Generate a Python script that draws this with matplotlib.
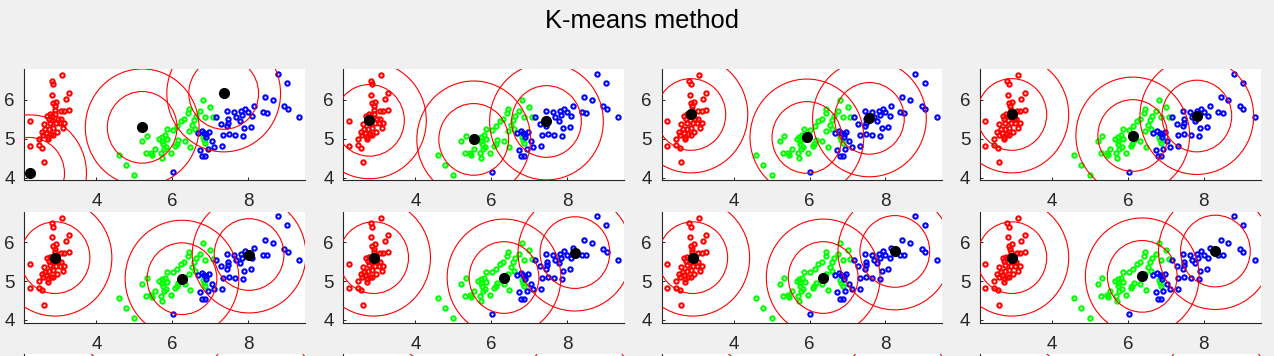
import matplotlib
matplotlib.use('Agg')
import matplotlib.pyplot as plt
from matplotlib.patches import Circle

# ---- data (same points in every panel) ----
red_x = [3.09, 2.82, 2.87, 3.28, 2.84, 3.19, 2.94, 2.86, 2.90, 2.91, 3.07, 3.16, 3.28, 2.24,
         2.70, 2.78, 2.84, 2.90, 2.74, 2.84, 2.99, 3.06, 3.16, 2.61, 2.77, 2.93, 3.03, 2.65,
         2.76, 2.87, 3.11, 2.56, 2.68, 2.80, 2.96, 2.59, 2.72, 2.87, 2.48, 2.72, 2.24, 2.48,
         2.58, 2.61]
red_y = [6.63, 6.48, 6.39, 6.17, 6.12, 6.03, 5.95, 5.91, 5.83, 5.74, 5.72, 5.72, 5.74, 5.45,
         5.58, 5.62, 5.58, 5.64, 5.51, 5.48, 5.51, 5.50, 5.39, 5.37, 5.41, 5.39, 5.39, 5.24,
         5.26, 5.28, 5.27, 5.18, 5.15, 5.11, 5.17, 5.10, 5.04, 5.10, 5.00, 4.98, 4.81, 4.83,
         4.76, 4.39]

green_x = [6.81, 7.01, 6.44, 6.74, 6.43, 6.64, 6.87, 7.08, 6.32, 6.23, 6.58, 6.53, 6.60, 6.44,
           6.14, 6.02, 5.86, 5.33, 5.21, 5.66, 5.73, 5.81, 5.74, 5.87, 5.75, 5.84, 5.78, 6.16,
           6.12, 6.08, 6.33, 6.48, 6.84, 6.88, 6.81, 5.96, 5.54, 5.44, 5.30, 5.47, 5.70, 5.72,
           4.59, 4.77, 5.00]
green_y = [5.98, 5.80, 5.75, 5.70, 5.65, 5.58, 5.55, 5.56, 5.50, 5.44, 5.49, 5.36, 5.26, 5.19,
           5.32, 5.22, 5.24, 5.07, 4.93, 5.00, 5.05, 5.09, 4.95, 4.98, 4.86, 4.79, 4.74, 4.96,
           4.87, 4.82, 4.93, 4.78, 4.96, 4.88, 5.03, 4.64, 4.74, 4.64, 4.62, 4.59, 4.62, 4.50,
           4.57, 4.32, 4.06]

blue_x = [8.79, 9.04, 8.45, 8.65, 8.96, 9.05, 9.35, 8.16, 8.39, 8.50, 7.93, 8.00, 7.82, 7.64,
          7.46, 7.69, 7.78, 7.85, 8.11, 7.48, 7.48, 7.46, 7.29, 7.17, 7.90, 8.08, 7.33, 7.49,
          7.66, 7.87, 7.32, 7.11, 7.04, 6.97, 6.67, 6.78, 6.84, 6.90, 6.90, 6.73, 6.94, 6.80,
          6.87, 6.02]
blue_y = [6.66, 6.44, 6.06, 5.98, 5.83, 5.75, 5.55, 5.85, 5.68, 5.66, 5.77, 5.68, 5.70, 5.68,
          5.70, 5.55, 5.46, 5.60, 5.59, 5.50, 5.40, 5.32, 5.38, 5.55, 5.27, 5.30, 5.09, 5.11,
          5.09, 5.06, 4.80, 4.79, 4.93, 5.17, 5.15, 5.20, 5.15, 5.12, 5.05, 4.72, 4.74, 4.55,
          4.55, 4.15]

# ---- centroids per iteration (12 panels, row-major) ----
cen1_x = [2.24, 2.79, 2.87, 2.94, 2.91, 2.90, 2.92, 2.94, 2.94, 2.94, 2.94, 2.94]
cen1_y = [4.11, 5.47, 5.62, 5.62, 5.60, 5.60, 5.60, 5.60, 5.60, 5.60, 5.60, 5.60]
cen2_x = [5.21, 5.54, 5.93, 6.13, 6.26, 6.34, 6.36, 6.38, 6.40, 6.40, 6.40, 6.40]
cen2_y = [5.29, 4.98, 5.03, 5.08, 5.06, 5.09, 5.09, 5.12, 5.13, 5.13, 5.13, 5.13]
cen3_x = [7.36, 7.46, 7.58, 7.82, 8.03, 8.21, 8.25, 8.31, 8.33, 8.33, 8.33, 8.33]
cen3_y = [6.16, 5.44, 5.52, 5.58, 5.68, 5.73, 5.76, 5.77, 5.78, 5.78, 5.78, 5.78]

circle_radii = [0.92, 1.5]

x_ticks = [4, 6, 8]
y_ticks = [4, 5, 6]

# ---- figure ----
W, H = 1274, 356
BG = '#f0f0f0'
AXC = (0.15, 0.15, 0.15)
plt.rcParams['font.family'] = ['Liberation Sans', 'DejaVu Sans']

fig = plt.figure(figsize=(W / 100, H / 100), dpi=100, facecolor=BG)

col_left_px = [24.3, 343.3, 661.7, 980.0]
row_top_px = [69.3, 211.7, 354.0]
ax_w_px, ax_h_px = 280.5, 111.0

for i in range(12):
    r, c = divmod(i, 4)
    ax = fig.add_axes([col_left_px[c] / W,
                       (H - row_top_px[r] - ax_h_px) / H,
                       ax_w_px / W, ax_h_px / H])
    ax.set_facecolor('white')
    for xs, ys, col in ((red_x, red_y, 'red'), (green_x, green_y, '#00ff00'),
                        (blue_x, blue_y, 'blue')):
        ax.plot(xs, ys, 'o', ms=3.1, mew=1.5, mfc='none', mec=col,
                linestyle='none', zorder=2)
    cxs = [cen1_x[i], cen2_x[i], cen3_x[i]]
    cys = [cen1_y[i], cen2_y[i], cen3_y[i]]
    for cx, cy in zip(cxs, cys):
        for rad in circle_radii:
            ax.add_patch(Circle((cx, cy), rad, fill=False, ec='red', lw=0.8, zorder=3))
    ax.plot(cxs, cys, 'o', ms=7.0, color='black', linestyle='none', zorder=4)

    ax.set_xlim(2.1, 9.5)
    ax.set_ylim(3.93, 6.78)
    ax.set_xticks(x_ticks)
    ax.set_yticks(y_ticks)
    for s in ('top', 'right'):
        ax.spines[s].set_visible(False)
    for s in ('left', 'bottom'):
        ax.spines[s].set_color(AXC)
        ax.spines[s].set_linewidth(0.8)
    ax.tick_params(axis='both', direction='in', length=2.2, width=0.7,
                   colors=AXC, labelsize=13.5)
    ax.tick_params(axis='x', pad=9.5)
    ax.tick_params(axis='y', pad=7)
    if r == 2:
        # third row lies almost entirely below the visible area
        ax.tick_params(labelleft=False, labelbottom=False)

fig.text(642 / W, 1 - 28.3 / H, 'K-means method', ha='center', va='baseline',
         fontsize=18.4, color='black')

fig.savefig('out.png', dpi=100, facecolor=BG)
